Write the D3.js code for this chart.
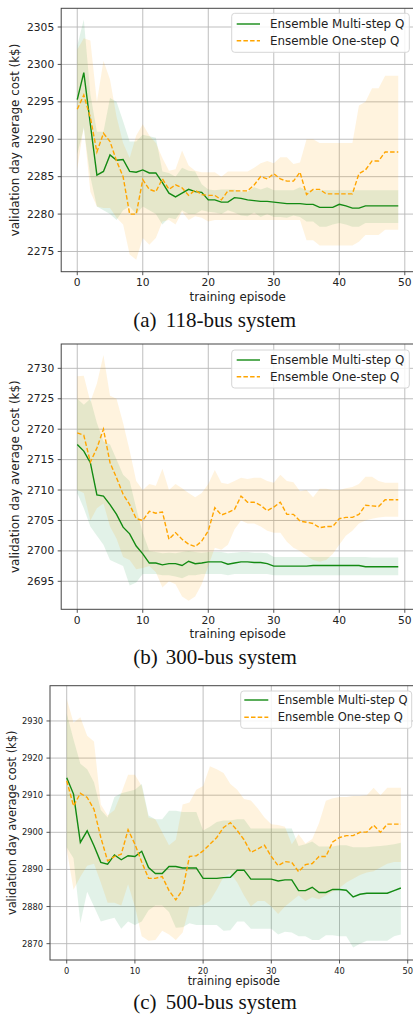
<!DOCTYPE html>
<html>
<head>
<meta charset="utf-8">
<script src="https://cdn.jsdelivr.net/npm/d3@7"></script>
<style>
  body { margin: 0; background: #fff; }
  text { font-family: "DejaVu Sans", sans-serif; fill: #222; }
  .cap { font-family: "Liberation Serif", "Times New Roman", serif; fill: #111; }
</style>
</head>
<body>
<svg id="fig" width="413" height="1015"></svg>
<script>
// x axis: training episode index
const episodes = d3.range(0, 50);
const xTicks = [0, 10, 20, 30, 40, 50];
const seriesNames = ["Ensemble Multi-step Q", "Ensemble One-step Q"];

// (a) 118-bus system
const a_yTicks = [2275, 2280, 2285, 2290, 2295, 2300, 2305];
const a_multiMean = [2295.3, 2298.9, 2292.0, 2285.2, 2285.7, 2287.9, 2287.2, 2287.3, 2285.7, 2285.6,
  2285.9, 2285.5, 2285.5, 2284.2, 2282.8, 2282.3, 2282.8, 2283.3, 2283.0, 2282.9,
  2281.9, 2281.9, 2281.6, 2281.6, 2282.2, 2282.1, 2281.9, 2281.8, 2281.7, 2281.7,
  2281.6, 2281.5, 2281.4, 2281.4, 2281.4, 2281.3, 2281.3, 2280.9, 2280.9, 2280.9,
  2281.3, 2281.1, 2280.8, 2280.8, 2281.1, 2281.1, 2281.1, 2281.1, 2281.1, 2281.1];
const a_multiHi = [2302.5, 2306.0, 2296.0, 2291.0, 2291.0, 2295.5, 2295.0, 2292.4, 2289.7, 2289.7,
  2290.6, 2290.4, 2290.2, 2285.7, 2285.5, 2285.0, 2286.2, 2285.8, 2285.7, 2284.0,
  2283.3, 2283.2, 2283.3, 2283.3, 2283.3, 2283.0, 2283.0, 2283.6, 2283.3, 2283.6,
  2283.2, 2283.2, 2283.2, 2283.2, 2283.6, 2283.2, 2283.2, 2283.2, 2283.2, 2283.2,
  2283.2, 2283.2, 2283.2, 2283.2, 2283.2, 2283.2, 2283.2, 2283.2, 2283.2, 2283.2];
const a_multiLo = [2288.0, 2291.5, 2285.0, 2281.0, 2280.5, 2280.0, 2279.2, 2280.5, 2281.0, 2280.0,
  2281.0, 2280.5, 2280.0, 2278.6, 2279.5, 2279.3, 2280.5, 2280.0, 2280.0, 2280.5,
  2280.3, 2280.2, 2280.0, 2280.5, 2280.2, 2279.8, 2279.7, 2280.2, 2279.6, 2280.0,
  2279.6, 2279.6, 2279.5, 2279.8, 2279.6, 2279.0, 2279.0, 2278.3, 2278.3, 2278.6,
  2278.8, 2278.6, 2278.3, 2278.3, 2278.8, 2278.8, 2278.8, 2278.8, 2278.8, 2278.8];
const a_oneMean = [2294.0, 2295.9, 2292.9, 2288.3, 2290.8, 2289.7, 2287.1, 2285.0, 2280.0, 2280.0,
  2284.6, 2283.3, 2283.0, 2284.7, 2283.3, 2283.9, 2283.5, 2282.5, 2283.2, 2282.6,
  2282.5, 2282.5, 2281.9, 2283.1, 2283.1, 2283.1, 2283.1, 2283.9, 2285.0, 2284.7,
  2285.4, 2284.7, 2284.4, 2284.4, 2285.6, 2282.6, 2283.3, 2283.3, 2282.7, 2282.7,
  2282.7, 2282.7, 2282.7, 2285.4, 2285.9, 2287.1, 2287.1, 2288.3, 2288.3, 2288.3];
const a_oneHi = [2302.0, 2303.5, 2303.2, 2295.0, 2300.5, 2298.0, 2293.0, 2289.5, 2287.5, 2290.5,
  2292.0, 2290.5, 2289.5, 2287.5, 2285.8, 2286.0, 2288.5, 2286.5, 2285.8, 2285.6,
  2285.6, 2285.6, 2285.0, 2285.7, 2285.7, 2285.7, 2285.7, 2286.2, 2286.8, 2287.1,
  2286.8, 2287.6, 2287.6, 2286.7, 2286.9, 2290.0, 2290.0, 2289.5, 2289.5, 2289.5,
  2289.5, 2289.5, 2289.5, 2294.5, 2295.0, 2296.8, 2296.8, 2298.5, 2298.5, 2298.5];
const a_oneLo = [2286.0, 2291.7, 2283.0, 2281.0, 2280.8, 2280.8, 2279.5, 2278.6, 2274.6, 2273.9,
  2276.8, 2275.9, 2276.8, 2279.0, 2279.2, 2278.6, 2280.3, 2279.2, 2279.7, 2279.5,
  2279.0, 2279.2, 2279.2, 2279.2, 2279.2, 2279.2, 2279.2, 2279.2, 2279.2, 2279.2,
  2279.2, 2279.2, 2279.2, 2279.2, 2279.2, 2276.5, 2276.5, 2275.8, 2275.8, 2275.8,
  2275.8, 2275.8, 2275.8, 2276.3, 2277.2, 2277.2, 2277.2, 2277.9, 2277.9, 2277.9];

// (b) 300-bus system
const b_yTicks = [2695, 2700, 2705, 2710, 2715, 2720, 2725, 2730];
const b_multiMean = [2717.5, 2716.4, 2714.5, 2709.2, 2709.0, 2707.6, 2706.0, 2703.9, 2702.8, 2700.8,
  2699.5, 2698.0, 2698.0, 2697.7, 2697.9, 2697.9, 2697.6, 2698.3, 2697.9, 2698.0,
  2698.2, 2698.2, 2698.2, 2697.8, 2698.0, 2698.2, 2698.2, 2698.1, 2698.1, 2697.9,
  2697.5, 2697.5, 2697.5, 2697.5, 2697.5, 2697.5, 2697.6, 2697.6, 2697.6, 2697.6,
  2697.6, 2697.6, 2697.6, 2697.6, 2697.4, 2697.4, 2697.4, 2697.4, 2697.4, 2697.4];
const b_multiHi = [2725.0, 2724.0, 2725.0, 2721.0, 2718.0, 2717.5, 2715.0, 2712.5, 2711.5, 2707.0,
  2703.0, 2700.0, 2699.8, 2699.6, 2699.7, 2699.6, 2699.8, 2700.0, 2699.8, 2699.7,
  2699.8, 2699.8, 2699.8, 2699.6, 2699.7, 2699.8, 2699.8, 2699.7, 2699.7, 2699.6,
  2699.0, 2699.0, 2699.0, 2699.0, 2699.0, 2699.0, 2699.0, 2699.0, 2699.0, 2699.0,
  2699.0, 2699.0, 2699.0, 2699.0, 2699.0, 2698.9, 2698.9, 2698.9, 2698.9, 2698.9];
const b_multiLo = [2709.5, 2707.0, 2704.0, 2702.5, 2701.0, 2698.5, 2698.0, 2697.5, 2694.3, 2694.8,
  2696.2, 2696.2, 2696.2, 2696.0, 2696.0, 2695.8, 2695.5, 2696.0, 2696.0, 2696.2,
  2696.2, 2696.2, 2696.2, 2696.0, 2696.2, 2696.2, 2696.2, 2696.2, 2696.2, 2696.2,
  2696.0, 2696.0, 2696.0, 2696.0, 2696.0, 2696.0, 2696.0, 2696.0, 2696.0, 2696.0,
  2696.0, 2696.0, 2696.0, 2696.0, 2696.0, 2696.0, 2696.0, 2696.0, 2696.0, 2696.0];
const b_oneMean = [2719.4, 2719.0, 2714.6, 2716.9, 2720.0, 2714.5, 2712.0, 2709.3, 2707.6, 2705.3,
  2705.0, 2706.5, 2706.2, 2706.4, 2701.9, 2703.0, 2701.9, 2701.1, 2700.7, 2701.6,
  2703.3, 2707.1, 2705.9, 2706.3, 2706.8, 2709.0, 2708.0, 2708.0, 2707.5, 2706.6,
  2707.2, 2708.0, 2706.0, 2706.0, 2704.9, 2704.7, 2704.5, 2703.8, 2704.0, 2704.0,
  2705.3, 2705.5, 2705.5, 2706.0, 2707.5, 2707.4, 2707.3, 2708.4, 2708.4, 2708.4];
const b_oneHi = [2728.7, 2728.8, 2724.5, 2727.5, 2732.2, 2725.5, 2725.0, 2721.0, 2716.5, 2711.5,
  2710.0, 2711.0, 2710.7, 2713.5, 2710.0, 2711.0, 2710.3, 2709.5, 2708.8, 2709.5,
  2711.0, 2713.3, 2711.2, 2711.0, 2711.5, 2712.0, 2711.8, 2712.0, 2712.0, 2711.5,
  2711.2, 2712.5, 2711.5, 2711.3, 2709.8, 2710.0, 2708.8, 2710.2, 2710.2, 2710.0,
  2710.0, 2710.3, 2710.5, 2711.0, 2712.2, 2712.2, 2711.5, 2711.2, 2711.2, 2711.2];
const b_oneLo = [2710.0, 2709.5, 2705.0, 2707.0, 2707.8, 2704.0, 2702.0, 2699.0, 2698.5, 2697.0,
  2697.2, 2697.5, 2696.5, 2694.0, 2695.0, 2694.5, 2692.5, 2691.8, 2692.5, 2694.5,
  2697.5, 2700.5, 2700.2, 2701.0, 2703.5, 2705.0, 2704.5, 2704.5, 2704.0, 2703.3,
  2703.0, 2703.0, 2701.5, 2700.5, 2700.0, 2699.2, 2698.5, 2698.2, 2698.5, 2699.5,
  2701.0, 2702.5, 2703.3, 2704.5, 2705.0, 2705.3, 2705.5, 2705.6, 2705.6, 2705.6];

// (c) 500-bus system
const c_yTicks = [2870, 2880, 2890, 2900, 2910, 2920, 2930];
const c_multiMean = [2914.7, 2910.3, 2897.3, 2900.4, 2896.4, 2891.9, 2891.4, 2893.9, 2892.6, 2893.7,
  2893.5, 2894.9, 2890.5, 2888.9, 2888.9, 2890.8, 2890.8, 2890.4, 2890.4, 2890.4,
  2887.6, 2887.6, 2887.6, 2887.8, 2887.9, 2889.8, 2889.8, 2887.4, 2887.4, 2887.4,
  2887.4, 2886.9, 2887.2, 2887.2, 2884.3, 2884.3, 2885.2, 2883.8, 2883.8, 2884.6,
  2884.6, 2884.4, 2882.6, 2883.3, 2883.6, 2883.6, 2883.6, 2883.6, 2884.3, 2885.0];
const c_multiHi = [2932.0, 2925.0, 2918.5, 2917.0, 2913.5, 2906.0, 2904.0, 2909.5, 2910.5, 2911.0,
  2911.5, 2913.0, 2904.5, 2903.5, 2903.5, 2905.8, 2905.8, 2905.5, 2905.5, 2905.5,
  2900.5, 2901.5, 2902.8, 2903.2, 2903.2, 2903.5, 2903.5, 2901.0, 2901.0, 2901.0,
  2901.0, 2901.0, 2901.0, 2901.0, 2896.3, 2896.8, 2897.5, 2896.2, 2896.2, 2896.2,
  2896.5, 2896.5, 2896.0, 2896.0, 2896.0, 2896.2, 2896.3, 2896.5, 2896.8, 2897.2];
const c_multiLo = [2896.0, 2893.0, 2875.5, 2884.0, 2880.0, 2876.0, 2876.5, 2877.0, 2874.0, 2876.0,
  2875.0, 2876.0, 2879.0, 2880.3, 2880.3, 2878.5, 2874.3, 2874.4, 2875.5, 2875.0,
  2875.0, 2875.0, 2875.0, 2873.5, 2873.6, 2876.0, 2876.0, 2874.0, 2874.0, 2874.0,
  2874.0, 2872.5, 2873.2, 2873.0, 2872.0, 2872.0, 2871.0, 2871.0, 2872.3, 2872.3,
  2872.0, 2872.0, 2869.0, 2870.0, 2870.8, 2870.8, 2870.8, 2870.8, 2872.0, 2872.5];
const c_oneMean = [2913.9, 2907.1, 2910.5, 2909.4, 2906.2, 2898.6, 2892.3, 2893.5, 2894.1, 2900.7,
  2896.8, 2892.0, 2887.6, 2887.6, 2888.1, 2884.3, 2881.8, 2884.5, 2893.5, 2893.7,
  2895.0, 2896.8, 2898.6, 2901.3, 2902.6, 2900.5, 2898.0, 2894.6, 2895.5, 2896.5,
  2893.5, 2891.0, 2892.1, 2891.9, 2889.4, 2891.3, 2891.6, 2893.5, 2893.5, 2897.4,
  2898.6, 2899.1, 2899.1, 2900.0, 2900.1, 2901.9, 2900.0, 2902.2, 2902.2, 2902.2];
const c_oneHi = [2936.0, 2929.5, 2931.0, 2926.0, 2924.5, 2907.5, 2904.5, 2906.0, 2910.5, 2915.5,
  2915.5, 2912.5, 2904.0, 2903.5, 2900.0, 2896.5, 2898.0, 2907.5, 2908.0, 2911.5,
  2912.5, 2917.8, 2917.0, 2916.0, 2913.0, 2911.5, 2909.0, 2908.6, 2906.5, 2904.0,
  2902.2, 2902.0, 2901.5, 2896.8, 2899.5, 2897.0, 2898.2, 2902.5, 2908.5, 2909.2,
  2909.5, 2909.5, 2909.8, 2909.8, 2910.0, 2912.0, 2910.0, 2912.0, 2912.0, 2912.0];
const c_oneLo = [2895.5, 2884.5, 2888.0, 2891.0, 2891.5, 2886.5, 2881.0, 2881.0, 2880.3, 2886.0,
  2880.0, 2872.0, 2870.8, 2871.0, 2873.5, 2872.5, 2871.0, 2873.0, 2880.0, 2880.0,
  2880.5, 2881.5, 2884.5, 2888.0, 2889.0, 2886.5, 2883.0, 2880.0, 2881.5, 2881.5,
  2880.0, 2878.0, 2880.0, 2881.5, 2883.0, 2881.5, 2882.5, 2882.0, 2883.0, 2884.0,
  2885.0, 2886.5, 2887.5, 2888.5, 2889.2, 2889.5, 2890.5, 2891.5, 2892.0, 2892.0];

const svg = d3.select("#fig");

const panels = [
  { id: "a", caption: "118-bus system", left: 61.2, right: 414.3, top: 8.3, bottom: 271.7,
    yDomain: [2272.3, 2307.5], yTicks: a_yTicks, tickSize: 10.7, labelSize: 11.9,
    multi: [a_multiMean, a_multiHi, a_multiLo], one: [a_oneMean, a_oneHi, a_oneLo],
    xLabY: 282, xTitleY: 297, yTitleX: 15, capY: 326.5,
    leg: { x: 231.7, y: 13.3, w: 177.6, h: 39, r1: 24, r2: 40.7, lx: 236.7, lw: 23.3, tx: 270, fs: 11.9 } },
  { id: "b", caption: "300-bus system", left: 61.2, right: 414.3, top: 344, bottom: 609.3,
    yDomain: [2690.4, 2734], yTicks: b_yTicks, tickSize: 10.7, labelSize: 11.9,
    multi: [b_multiMean, b_multiHi, b_multiLo], one: [b_oneMean, b_oneHi, b_oneLo],
    xLabY: 620, xTitleY: 634, yTitleX: 15, capY: 664,
    leg: { x: 231.7, y: 350, w: 177.6, h: 38, r1: 360, r2: 376.7, lx: 236.7, lw: 23.3, tx: 270, fs: 11.9 } },
  { id: "c", caption: "500-bus system", left: 50, right: 417.6, top: 685.7, bottom: 960,
    yDomain: [2865.6, 2939.5], yTicks: c_yTicks, tickSize: 8.3, labelSize: 11.4,
    multi: [c_multiMean, c_multiHi, c_multiLo], one: [c_oneMean, c_oneHi, c_oneLo],
    xLabY: 971, xTitleY: 981, yTitleX: 12, capY: 1009,
    leg: { x: 240.7, y: 691, w: 171, h: 37.3, r1: 700, r2: 717.3, lx: 244.3, lw: 24, tx: 277.7, fs: 11.5 } }
];

function drawPanel(p) {
  const g = svg.append("g");
  const x = d3.scaleLinear().domain([-2.45, 51.45]).range([p.left, p.right]);
  const y = d3.scaleLinear().domain(p.yDomain).range([p.bottom, p.top]);

  g.append("clipPath").attr("id", "clip-" + p.id)
    .append("rect").attr("x", p.left).attr("y", p.top)
    .attr("width", p.right - p.left).attr("height", p.bottom - p.top);

  // grid
  g.selectAll(".gx").data(xTicks).enter().append("line")
    .attr("x1", d => x(d)).attr("x2", d => x(d))
    .attr("y1", p.top).attr("y2", p.bottom)
    .attr("stroke", "#b8b8b8").attr("stroke-width", 0.9);
  g.selectAll(".gy").data(p.yTicks).enter().append("line")
    .attr("x1", p.left).attr("x2", p.right)
    .attr("y1", d => y(d)).attr("y2", d => y(d))
    .attr("stroke", "#b8b8b8").attr("stroke-width", 0.9);

  const plot = g.append("g").attr("clip-path", `url(#clip-${p.id})`);
  const area = d3.area()
    .x(d => x(d[0])).y0(d => y(d[1])).y1(d => y(d[2]));
  const line = d3.line().x(d => x(d[0])).y(d => y(d[1]));

  plot.append("path")
    .datum(d3.zip(episodes, p.multi[2], p.multi[1]))
    .attr("d", area).attr("fill", "#3fa566").attr("fill-opacity", 0.15);
  plot.append("path")
    .datum(d3.zip(episodes, p.one[2], p.one[1]))
    .attr("d", area).attr("fill", "#ffa500").attr("fill-opacity", 0.13);

  plot.append("path")
    .datum(d3.zip(episodes, p.multi[0]))
    .attr("d", line).attr("fill", "none")
    .attr("stroke", "#138a13").attr("stroke-width", 1.4);
  plot.append("path")
    .datum(d3.zip(episodes, p.one[0]))
    .attr("d", line).attr("fill", "none")
    .attr("stroke", "#ffa500").attr("stroke-width", 1.4)
    .attr("stroke-dasharray", "4.5,2.2");

  // spines
  g.append("rect").attr("x", p.left).attr("y", p.top)
    .attr("width", p.right - p.left).attr("height", p.bottom - p.top)
    .attr("fill", "none").attr("stroke", "#444").attr("stroke-width", 1);

  // ticks
  g.selectAll(".tx").data(xTicks).enter().append("line")
    .attr("x1", d => x(d)).attr("x2", d => x(d))
    .attr("y1", p.bottom).attr("y2", p.bottom + 3.5)
    .attr("stroke", "#444").attr("stroke-width", 0.9);
  g.selectAll(".txl").data(xTicks).enter().append("text")
    .attr("x", d => x(d)).attr("y", p.xLabY)
    .attr("text-anchor", "middle").attr("dominant-baseline", "central")
    .style("font-size", p.tickSize + "px").text(d => d);
  g.selectAll(".ty").data(p.yTicks).enter().append("line")
    .attr("x1", p.left - 3.5).attr("x2", p.left)
    .attr("y1", d => y(d)).attr("y2", d => y(d))
    .attr("stroke", "#444").attr("stroke-width", 0.9);
  g.selectAll(".tyl").data(p.yTicks).enter().append("text")
    .attr("x", p.left - 7).attr("y", d => y(d))
    .attr("text-anchor", "end").attr("dominant-baseline", "central")
    .style("font-size", p.tickSize + "px").text(d => d);

  // axis titles
  g.append("text").attr("x", (p.left + p.right) / 2).attr("y", p.xTitleY)
    .attr("text-anchor", "middle").attr("dominant-baseline", "central")
    .style("font-size", p.labelSize + "px").text("training episode");
  g.append("text")
    .attr("transform", `translate(${p.yTitleX},${(p.top + p.bottom) / 2}) rotate(-90)`)
    .attr("text-anchor", "middle").attr("dominant-baseline", "central")
    .style("font-size", p.labelSize + "px").text("validation day average cost (k$)");

  // legend
  const L = p.leg;
  g.append("rect").attr("x", L.x).attr("y", L.y).attr("width", L.w).attr("height", L.h)
    .attr("rx", 3).attr("fill", "#fff").attr("fill-opacity", 0.85)
    .attr("stroke", "#d6d6d6").attr("stroke-width", 1);
  g.append("line").attr("x1", L.lx).attr("x2", L.lx + L.lw).attr("y1", L.r1).attr("y2", L.r1)
    .attr("stroke", "#138a13").attr("stroke-width", 1.4);
  g.append("line").attr("x1", L.lx).attr("x2", L.lx + L.lw).attr("y1", L.r2).attr("y2", L.r2)
    .attr("stroke", "#ffa500").attr("stroke-width", 1.4).attr("stroke-dasharray", "4.5,2.2");
  g.append("text").attr("x", L.tx).attr("y", L.r1).attr("dominant-baseline", "central")
    .style("font-size", L.fs + "px").text(seriesNames[0]);
  g.append("text").attr("x", L.tx).attr("y", L.r2).attr("dominant-baseline", "central")
    .style("font-size", L.fs + "px").text(seriesNames[1]);

  // caption
  g.append("text").attr("class", "cap").attr("x", 133.3).attr("y", p.capY)
    .style("font-size", "21px").text(`(${p.id})`);
  g.append("text").attr("class", "cap").attr("x", 165.7).attr("y", p.capY)
    .style("font-size", "21px").text(p.caption);
}

panels.forEach(drawPanel);
</script>
</body>
</html>
